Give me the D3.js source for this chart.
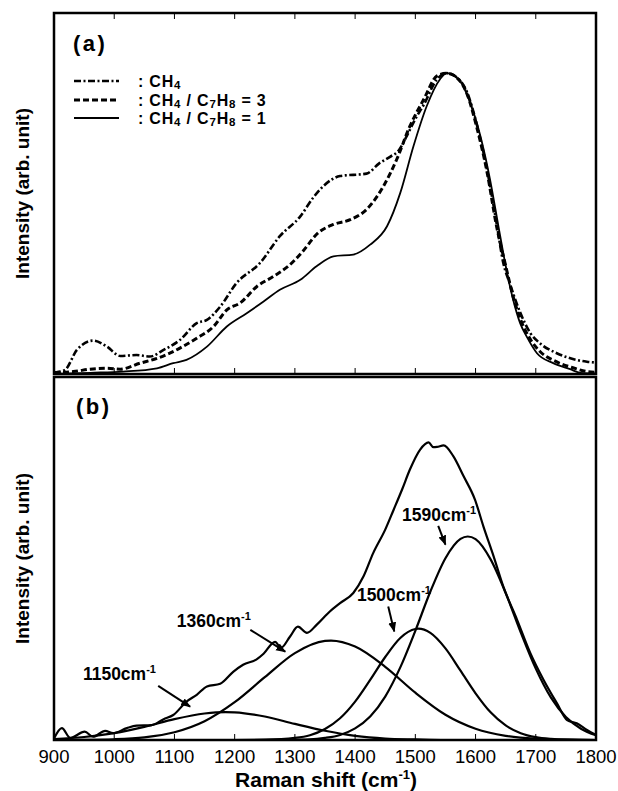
<!DOCTYPE html>
<html>
<head>
<meta charset="utf-8">
<script src="https://cdn.jsdelivr.net/npm/d3@7"></script>
<style>
  body { margin: 0; background: #fff; }
  svg text { font-family: "Liberation Sans", Arial, sans-serif; fill: #000; }
</style>
</head>
<body>
<div id="chart"></div>
<script>
// x axis
const shiftTicks = [900, 1000, 1100, 1200, 1300, 1400, 1500, 1600, 1700, 1800];

// (a) normalised spectra, [shift, intensity]
const ch4 = [[900,0.004],[918,0.013],[938,0.08],[965,0.111],[988,0.091],[1010,0.06],[1037,0.063],[1059,0.058],[1082,0.08],[1109,0.113],[1137,0.169],[1154,0.18],[1176,0.224],[1203,0.302],[1242,0.369],[1275,0.458],[1309,0.524],[1330,0.585],[1347,0.624],[1375,0.658],[1419,0.666],[1440,0.7],[1458,0.722],[1472,0.742],[1488,0.8],[1500,0.848],[1514,0.895],[1536,0.98],[1552,1.0],[1569,0.986],[1586,0.936],[1602,0.83],[1619,0.68],[1635,0.5],[1646,0.37],[1657,0.3],[1674,0.205],[1691,0.136],[1707,0.102],[1735,0.069],[1763,0.049],[1785,0.041],[1800,0.038]];
const ratio3 = [[900,0.005],[932,0.008],[960,0.016],[988,0.019],[1010,0.016],[1043,0.036],[1071,0.052],[1109,0.086],[1137,0.119],[1165,0.158],[1187,0.213],[1209,0.236],[1237,0.291],[1264,0.324],[1290,0.36],[1312,0.405],[1338,0.468],[1364,0.497],[1392,0.513],[1419,0.547],[1447,0.624],[1469,0.713],[1491,0.824],[1514,0.913],[1536,0.991],[1552,1.0],[1569,0.985],[1586,0.93],[1602,0.82],[1619,0.672],[1635,0.49],[1650,0.36],[1662,0.26],[1674,0.185],[1691,0.115],[1707,0.075],[1735,0.04],[1763,0.02],[1785,0.008],[1800,0.006]];
const ratio1 = [[900,0.0],[960,0.004],[1015,0.008],[1071,0.019],[1098,0.036],[1120,0.047],[1154,0.091],[1187,0.158],[1220,0.202],[1248,0.241],[1275,0.28],[1309,0.313],[1336,0.358],[1364,0.391],[1397,0.397],[1425,0.43],[1453,0.491],[1475,0.602],[1497,0.758],[1519,0.891],[1541,0.98],[1552,1.0],[1574,0.974],[1591,0.902],[1608,0.791],[1624,0.647],[1638,0.491],[1650,0.36],[1662,0.25],[1674,0.169],[1685,0.124],[1702,0.069],[1729,0.036],[1757,0.016],[1774,0.004],[1800,0.002]];
const legendLabels = [": CH4", ": CH4 / C7H8 = 3", ": CH4 / C7H8 = 1"];

// (b) measured spectrum and fitted bands
const measured = [[900,0.005],[913,0.04],[927,0.007],[951,0.028],[965,0.011],[985,0.031],[998,0.023],[1021,0.04],[1037,0.048],[1062,0.05],[1082,0.07],[1098,0.084],[1120,0.129],[1137,0.152],[1154,0.18],[1176,0.189],[1198,0.23],[1214,0.253],[1237,0.272],[1248,0.29],[1267,0.33],[1277,0.31],[1292,0.348],[1305,0.381],[1320,0.36],[1336,0.387],[1358,0.432],[1375,0.46],[1397,0.494],[1414,0.55],[1430,0.628],[1450,0.707],[1464,0.774],[1478,0.842],[1491,0.909],[1508,0.976],[1522,1.0],[1530,0.984],[1536,0.985],[1547,0.99],[1563,0.954],[1580,0.887],[1599,0.808],[1613,0.718],[1630,0.617],[1646,0.516],[1669,0.404],[1691,0.292],[1713,0.202],[1735,0.124],[1752,0.067],[1768,0.056],[1785,0.034],[1800,0.017]];
const band1150 = [[900,0.003],[950,0.01],[1000,0.023],[1050,0.044],[1100,0.07],[1150,0.089],[1185,0.094],[1200,0.093],[1250,0.079],[1300,0.054],[1350,0.031],[1400,0.014],[1450,0.005],[1500,0.002],[1550,0],[1800,0]];
const band1360 = [[900,0],[950,0.0005],[1000,0.0025],[1050,0.009],[1100,0.026],[1150,0.063],[1200,0.127],[1250,0.211],[1300,0.292],[1350,0.333],[1360,0.334],[1400,0.314],[1450,0.246],[1500,0.159],[1550,0.085],[1600,0.038],[1650,0.014],[1700,0.004],[1750,0.001],[1800,0]];
const band1500 = [[900,0],[1200,0],[1250,0.001],[1300,0.007],[1325,0.016],[1350,0.037],[1375,0.073],[1400,0.129],[1425,0.202],[1450,0.279],[1475,0.343],[1500,0.373],[1505,0.374],[1525,0.36],[1550,0.308],[1575,0.233],[1600,0.157],[1625,0.093],[1650,0.049],[1675,0.023],[1700,0.0095],[1725,0.0035],[1750,0.001],[1800,0]];
const band1590 = [[900,0],[1250,0],[1300,0.001],[1325,0.002],[1350,0.007],[1375,0.017],[1400,0.039],[1425,0.079],[1450,0.146],[1475,0.244],[1500,0.367],[1525,0.499],[1550,0.611],[1575,0.676],[1587,0.684],[1600,0.675],[1625,0.607],[1650,0.494],[1675,0.362],[1700,0.24],[1725,0.143],[1750,0.077],[1775,0.038],[1800,0.016]];
const bandLabels = ["1150", "1360", "1500", "1590"];

const W = 618, H = 791;
const left = 54, right = 596;
const panelA = { top: 13, bottom: 374 };
const panelB = { top: 377, bottom: 740 };

const svg = d3.select("#chart").append("svg")
    .attr("width", W)
    .attr("height", H);

svg.append("defs").append("marker")
    .attr("id", "head")
    .attr("viewBox", "0 0 10 10")
    .attr("refX", 9).attr("refY", 5)
    .attr("markerWidth", 5).attr("markerHeight", 5)
    .attr("orient", "auto")
    .append("path")
    .attr("d", "M0,1 L10,5 L0,9 Z")
    .attr("fill", "#000");

const x = d3.scaleLinear().domain([900, 1800]).range([left, right]);
const yA = d3.scaleLinear().domain([0, 1.2]).range([panelA.bottom, panelA.top]);
const yB = d3.scaleLinear().domain([0, 1.22]).range([panelB.bottom, panelB.top]);

function lineFor(y) {
    return d3.line()
        .x(d => x(d[0]))
        .y(d => y(d[1]))
        .curve(d3.curveMonotoneX);
}

// text with chemical subscripts (digit right after a capital letter)
function chem(sel, str, size) {
    const parts = str.split(/(?<=[A-Z])(\d+)/);
    let shifted = false;
    parts.forEach((p, i) => {
        if (p === "") return;
        const sub = i % 2 === 1;
        const t = sel.append("tspan").text(p).attr("font-size", sub ? size * 0.72 : size);
        if (sub && !shifted) { t.attr("dy", 2); shifted = true; }
        else if (!sub && shifted) { t.attr("dy", -2); shifted = false; }
    });
}

// panel frames
[panelA, panelB].forEach(p => {
    svg.append("rect")
        .attr("x", left).attr("y", p.top)
        .attr("width", right - left).attr("height", p.bottom - p.top)
        .attr("fill", "none")
        .attr("stroke", "#000")
        .attr("stroke-width", 2.5);
});

// inward ticks
const inner = shiftTicks.slice(1, -1);
const tickLines = [
    { y: panelA.top, dir: 1 },
    { y: panelA.bottom, dir: -1 },
    { y: panelB.bottom, dir: -1 }
];
tickLines.forEach(t => {
    svg.append("g").selectAll("line")
        .data(inner)
        .enter().append("line")
        .attr("x1", d => x(d)).attr("x2", d => x(d))
        .attr("y1", t.y).attr("y2", t.y + t.dir * 6)
        .attr("stroke", "#000")
        .attr("stroke-width", 1);
});

// tick labels
svg.append("g").selectAll("text")
    .data(shiftTicks)
    .enter().append("text")
    .attr("x", d => x(d))
    .attr("y", 763)
    .attr("text-anchor", "middle")
    .attr("font-size", 18.5)
    .text(d => d);

// x title
const xt = svg.append("text")
    .attr("x", 326).attr("y", 787)
    .attr("text-anchor", "middle")
    .attr("font-size", 21)
    .attr("font-weight", "bold");
xt.append("tspan").text("Raman shift  (cm");
xt.append("tspan").text("-1").attr("font-size", 13).attr("dy", -8);
xt.append("tspan").text(")").attr("dy", 8);

// y titles
[panelA, panelB].forEach(p => {
    svg.append("text")
        .attr("transform", `translate(29,${(p.top + p.bottom) / 2}) rotate(-90)`)
        .attr("text-anchor", "middle")
        .attr("font-size", 19)
        .attr("font-weight", "bold")
        .text("Intensity  (arb. unit)");
});

// panel letters
svg.append("text").attr("x", 73).attr("y", 51)
    .attr("font-size", 22).attr("font-weight", "bold")
    .attr("letter-spacing", 2.5).text("(a)");
svg.append("text").attr("x", 76).attr("y", 414)
    .attr("font-size", 22).attr("font-weight", "bold")
    .attr("letter-spacing", 2.5).text("(b)");

// (a) spectra
const styles = [
    { data: ch4, dash: "7,2.5,2,2.5", width: 2.6 },
    { data: ratio3, dash: "6,3", width: 3 },
    { data: ratio1, dash: null, width: 1.8 }
];
styles.forEach(s => {
    svg.append("path")
        .datum(s.data)
        .attr("d", lineFor(yA))
        .attr("fill", "none")
        .attr("stroke", "#000")
        .attr("stroke-width", s.width)
        .attr("stroke-dasharray", s.dash);
});

// legend
const legendY = [81, 100, 118];
styles.forEach((s, i) => {
    svg.append("line")
        .attr("x1", 74).attr("x2", 119)
        .attr("y1", legendY[i]).attr("y2", legendY[i])
        .attr("stroke", "#000")
        .attr("stroke-width", s.width)
        .attr("stroke-dasharray", s.dash);
    const t = svg.append("text")
        .attr("x", 138).attr("y", legendY[i] + 5.5)
        .attr("font-size", 16)
        .attr("font-weight", "bold")
        .attr("letter-spacing", 0.8);
    chem(t, legendLabels[i], 16);
});

// (b) measured + fitted bands
[measured, band1150, band1360, band1500, band1590].forEach(d => {
    svg.append("path")
        .datum(d)
        .attr("d", lineFor(yB))
        .attr("fill", "none")
        .attr("stroke", "#000")
        .attr("stroke-width", 2.2);
});

// band annotations: text anchor, arrow tail, arrow tip (data coords)
const notes = [
    { text: [948, 0.202], tail: [1073, 0.182], tip: [1126, 0.112] },
    { text: [1104, 0.38], tail: [1226, 0.37], tip: [1284, 0.297] },
    { text: [1403, 0.466], tail: [1455, 0.449], tip: [1465, 0.365] },
    { text: [1478, 0.735], tail: [1538, 0.72], tip: [1550, 0.657] }
];
notes.forEach((n, i) => {
    const t = svg.append("text")
        .attr("x", x(n.text[0])).attr("y", yB(n.text[1]))
        .attr("font-size", 17.5)
        .attr("font-weight", "bold");
    t.append("tspan").text(bandLabels[i] + "cm");
    t.append("tspan").text("-1").attr("font-size", 11).attr("dy", -7);
    svg.append("line")
        .attr("x1", x(n.tail[0])).attr("y1", yB(n.tail[1]))
        .attr("x2", x(n.tip[0])).attr("y2", yB(n.tip[1]))
        .attr("stroke", "#000")
        .attr("stroke-width", 2)
        .attr("marker-end", "url(#head)");
});
</script>
</body>
</html>
